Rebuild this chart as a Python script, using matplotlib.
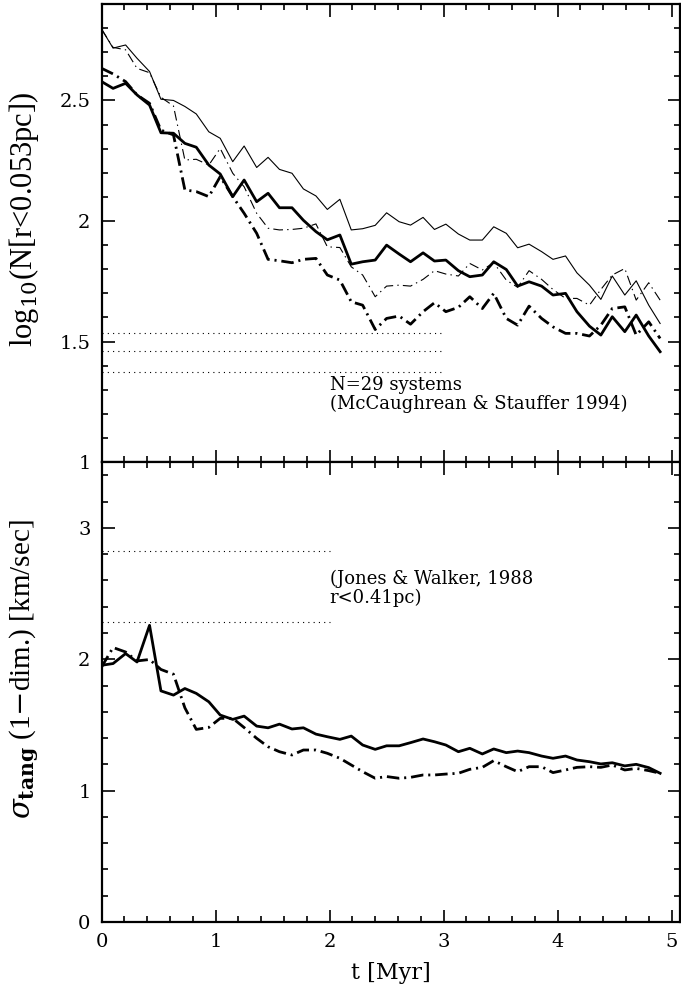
import numpy as np
import matplotlib.pyplot as plt
from matplotlib.ticker import MultipleLocator, FuncFormatter

plt.rcParams['font.family'] = 'DejaVu Serif'
plt.rcParams['mathtext.fontset'] = 'dejavuserif'
plt.rcParams['lines.scale_dashes'] = False

# output times [Myr]
t = [0.00, 0.10, 0.21, 0.31, 0.42, 0.52, 0.63, 0.73, 0.83, 0.94,
     1.04, 1.15, 1.25, 1.36, 1.46, 1.56, 1.67, 1.77, 1.88, 1.98,
     2.09, 2.19, 2.29, 2.40, 2.50, 2.61, 2.71, 2.82, 2.92, 3.02,
     3.13, 3.23, 3.34, 3.44, 3.55, 3.65, 3.75, 3.86, 3.96, 4.07,
     4.17, 4.28, 4.38, 4.48, 4.59, 4.69, 4.80, 4.90]

# top panel: log10 N(r<0.053pc)
logn_thin_solid = [2.795, 2.717, 2.730, 2.675, 2.620, 2.505, 2.500, 2.475, 2.444, 2.370,
                   2.343, 2.246, 2.311, 2.222, 2.264, 2.214, 2.198, 2.133, 2.104, 2.048,
                   2.090, 1.963, 1.968, 1.982, 2.034, 1.997, 1.983, 2.015, 1.965, 1.987,
                   1.946, 1.921, 1.921, 1.976, 1.949, 1.889, 1.904, 1.873, 1.841, 1.855,
                   1.785, 1.734, 1.675, 1.772, 1.693, 1.752, 1.651, 1.575]
logn_thin_dashdot = [2.795, 2.720, 2.710, 2.633, 2.615, 2.513, 2.477, 2.253, 2.256, 2.232,
                     2.301, 2.198, 2.142, 2.032, 1.970, 1.963, 1.965, 1.970, 1.988, 1.893,
                     1.890, 1.810, 1.776, 1.686, 1.730, 1.734, 1.730, 1.758, 1.794, 1.780,
                     1.772, 1.824, 1.797, 1.827, 1.755, 1.725, 1.794, 1.758, 1.716, 1.679,
                     1.679, 1.651, 1.716, 1.776, 1.803, 1.672, 1.744, 1.672]
logn_thick_solid = [2.578, 2.550, 2.571, 2.523, 2.481, 2.366, 2.364, 2.322, 2.306, 2.232,
                    2.195, 2.101, 2.170, 2.080, 2.115, 2.055, 2.055, 2.003, 1.956, 1.922,
                    1.942, 1.821, 1.831, 1.838, 1.900, 1.863, 1.831, 1.868, 1.834, 1.838,
                    1.794, 1.769, 1.776, 1.831, 1.799, 1.730, 1.748, 1.730, 1.693, 1.700,
                    1.624, 1.564, 1.527, 1.603, 1.541, 1.610, 1.523, 1.458]
logn_thick_dashdot = [2.633, 2.610, 2.578, 2.523, 2.488, 2.377, 2.357, 2.129, 2.122, 2.101,
                      2.184, 2.101, 2.032, 1.949, 1.841, 1.835, 1.827, 1.841, 1.845, 1.776,
                      1.755, 1.665, 1.651, 1.550, 1.596, 1.606, 1.572, 1.624, 1.661, 1.624,
                      1.642, 1.686, 1.637, 1.700, 1.596, 1.568, 1.647, 1.596, 1.561, 1.534,
                      1.534, 1.523, 1.568, 1.637, 1.644, 1.527, 1.582, 1.513]

# bottom panel: sigma_tang [km/s]
sig_solid = [1.954, 1.967, 2.043, 1.979, 2.258, 1.759, 1.727, 1.777, 1.740, 1.676,
             1.575, 1.542, 1.567, 1.491, 1.478, 1.506, 1.469, 1.478, 1.430, 1.410,
             1.390, 1.415, 1.347, 1.314, 1.341, 1.341, 1.365, 1.393, 1.372, 1.347,
             1.296, 1.322, 1.279, 1.317, 1.289, 1.301, 1.289, 1.263, 1.246, 1.263,
             1.233, 1.220, 1.203, 1.212, 1.188, 1.200, 1.175, 1.132]
sig_dashdot = [1.942, 2.089, 2.055, 1.987, 1.998, 1.922, 1.886, 1.630, 1.466, 1.481,
               1.550, 1.550, 1.480, 1.398, 1.334, 1.296, 1.271, 1.309, 1.309, 1.284,
               1.246, 1.195, 1.144, 1.094, 1.107, 1.094, 1.101, 1.119, 1.119, 1.126,
               1.132, 1.162, 1.177, 1.228, 1.182, 1.144, 1.182, 1.182, 1.137, 1.157,
               1.177, 1.182, 1.177, 1.195, 1.157, 1.169, 1.152, 1.132]

# observed reference levels
mccaughrean_levels = [1.373, 1.462, 1.536]   # log10(29 -/+ sqrt(29))
jones_walker_levels = [2.28, 2.82]

thick_dd = (0, (9, 3.5, 1.5, 3.5))
thin_dd = (0, (7, 3, 1, 3))
dots = (0, (0.8, 3))

fig = plt.figure(figsize=(6.81, 9.96), dpi=100)
ax1 = fig.add_axes([0.1493, 0.536, 0.849, 0.460])
ax2 = fig.add_axes([0.1493, 0.0743, 0.849, 0.4617])

ax1.plot(t, logn_thin_solid, color='black', lw=0.8)
ax1.plot(t, logn_thin_dashdot, color='black', lw=0.8, linestyle=thin_dd)
ax1.plot(t, logn_thick_solid, color='black', lw=2.0)
ax1.plot(t, logn_thick_dashdot, color='black', lw=2.0, linestyle=thick_dd)
for lev in mccaughrean_levels:
    ax1.plot([0, 3], [lev, lev], color='black', lw=0.8, linestyle=dots)
ax1.text(2.0, 1.318, 'N=29 systems', fontsize=13, va='center', ha='left')
ax1.text(2.0, 1.242, '(McCaughrean & Stauffer 1994)', fontsize=13, va='center', ha='left')

ax2.plot(t, sig_solid, color='black', lw=2.0)
ax2.plot(t, sig_dashdot, color='black', lw=2.0, linestyle=thick_dd)
for lev in jones_walker_levels:
    ax2.plot([0, 2], [lev, lev], color='black', lw=0.8, linestyle=dots)
ax2.text(2.0, 2.612, '(Jones & Walker, 1988', fontsize=13, va='center', ha='left')
ax2.text(2.0, 2.468, 'r<0.41pc)', fontsize=13, va='center', ha='left')

ax1.set_xlim(0, 5.073)
ax2.set_xlim(0, 5.073)
ax1.set_ylim(1, 2.9)
ax2.set_ylim(0, 3.5)

fmt = FuncFormatter(lambda v, p: '%g' % v)
for ax in (ax1, ax2):
    ax.xaxis.set_major_locator(MultipleLocator(1))
    ax.xaxis.set_minor_locator(MultipleLocator(0.2))
    ax.yaxis.set_major_formatter(fmt)
    ax.tick_params(which='both', direction='in', top=True, right=True, width=1.2,
                   labelsize=14, pad=8)
    ax.tick_params(which='major', length=9)
    ax.tick_params(which='minor', length=4.5)
    for s in ax.spines.values():
        s.set_linewidth(1.6)

ax1.yaxis.set_major_locator(MultipleLocator(0.5))
ax1.yaxis.set_minor_locator(MultipleLocator(0.1))
ax1.tick_params(labelbottom=False)
ax2.yaxis.set_major_locator(MultipleLocator(1))
ax2.yaxis.set_minor_locator(MultipleLocator(0.2))
ax2.set_yticks([0, 1, 2, 3])
ax2.set_xticks([0, 1, 2, 3, 4, 5])

ax1.set_ylabel(r'log$_{10}$(N[r<0.053pc])', fontsize=22, family='Liberation Serif')
ax2.set_ylabel(r'$\sigma_{\mathbf{tang}}$ (1$-$dim.) [km/sec]', fontsize=21, family='Liberation Serif')
ax1.yaxis.set_label_coords(-0.105, 0.53)
ax2.yaxis.set_label_coords(-0.105, 0.55)
ax2.set_xlabel('t [Myr]', fontsize=16, labelpad=8)

fig.savefig('out.png', dpi=100)
